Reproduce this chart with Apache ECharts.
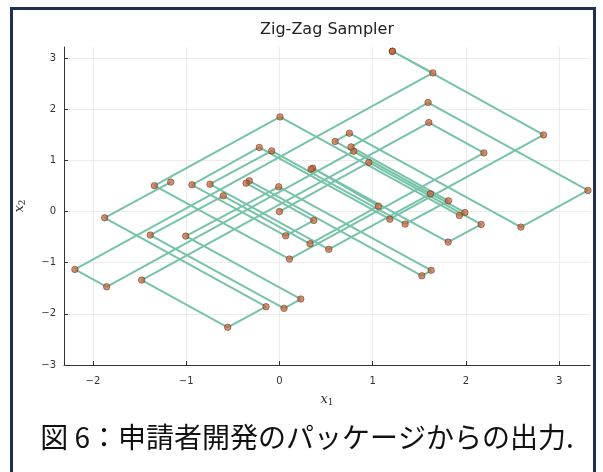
<!DOCTYPE html>
<html><head><meta charset="utf-8">
<script src="https://cdn.jsdelivr.net/npm/echarts@6/dist/echarts.min.js"></script>
<style>
html,body{margin:0;padding:0;background:#fff;overflow:hidden;width:603px;height:472px;}
#chart{position:absolute;left:0;top:0;width:603px;height:472px;}
#frame{position:absolute;left:10px;top:7px;width:580px;height:520px;border:3px solid #1f3152;pointer-events:none;}
</style></head>
<body>
<div id="chart"></div>
<div id="frame"></div>
<script>
// Zig-Zag trajectory, event points in order (x1, x2)
const pathX = [0.00, 0.958, 2.163, 1.809, 0.357, 0.339, 1.061, 0.328, -0.602, -1.385, 0.049, 0.229, -1.005, -0.008, 1.627, 1.527, -0.323, -0.358, 0.368, 0.067, -0.938, -0.216, 1.183, 2.832, 1.211, 1.211, 1.645, -2.193, -1.853, 0.797, 1.619, 0.529, -0.745, -0.083, 1.348, 1.812, 0.768, 1.594, 3.308, 2.589, 0.750, 0.597, 1.988, 1.930, 0.006, -1.341, 0.107, 2.192, 1.602, -1.477, -0.555, -0.144, -1.874, -1.166];
const pathY = [0.00, 0.961, -0.250, -0.596, 0.850, 0.831, 0.107, -0.629, 0.309, -0.459, -1.892, -1.710, -0.479, 0.485, -1.149, -1.255, 0.602, 0.557, -0.172, -0.473, 0.524, 1.255, -0.147, 1.501, 3.137, 3.137, 2.713, -1.130, -1.470, 1.182, 0.348, -0.738, 0.537, 1.188, -0.244, 0.211, 1.266, 2.134, 0.414, -0.303, 1.534, 1.372, -0.016, -0.074, 1.853, 0.508, -0.928, 1.149, 1.743, -1.339, -2.263, -1.860, -0.121, 0.577];
const xTicks = [-2, -1, 0, 1, 2, 3];
const yTicks = [-3, -2, -1, 0, 1, 2, 3];
const titleText = 'Zig-Zag Sampler';
const captionText = '図 6：申請者開発のパッケージからの出力.';

const fmt = v => (v < 0 ? '\u2212' + Math.abs(v) : String(v));
const chart = echarts.init(document.getElementById('chart'));
const axisCommon = {
  type: 'value',
  axisLine: {show: true, onZero: false, lineStyle: {color: '#333', width: 1}},
  splitLine: {show: true, lineStyle: {color: '#ececec', width: 1}},
  nameLocation: 'middle',
  nameTextStyle: {
    rich: {
      i: {fontFamily: 'DejaVu Serif', fontStyle: 'italic', fontSize: 13, color: '#333'},
      s: {fontFamily: 'DejaVu Serif', fontSize: 9, color: '#333', padding: [6, 0, 0, 0]}
    }
  }
};
chart.setOption({
  animation: false,
  grid: {left: 64, right: 13, top: 47, bottom: 107},
  xAxis: Object.assign({}, axisCommon, {
    min: -2.31, max: 3.33,
    name: '{i|x}{s|1}', nameGap: 27,
    axisTick: {show: true, inside: true, length: 4, customValues: xTicks, lineStyle: {color: '#333'}},
    axisLabel: {customValues: xTicks, formatter: fmt, fontSize: 10, color: '#333', margin: 11, fontFamily: 'DejaVu Sans'}
  }),
  yAxis: Object.assign({}, axisCommon, {
    min: -3, max: 3.22,
    name: '{i|x}{s|2}', nameGap: 37, nameRotate: 90,
    axisTick: {show: true, inside: true, length: 4, customValues: yTicks, lineStyle: {color: '#333'}},
    axisLabel: {customValues: yTicks, formatter: fmt, fontSize: 10, color: '#333', margin: 8, fontFamily: 'DejaVu Sans'}
  }),
  series: [{
    type: 'line',
    data: pathX.map((x, i) => [x, pathY[i]]),
    showAllSymbol: true,
    symbol: 'circle',
    symbolSize: 6.5,
    lineStyle: {color: '#77c3a9', width: 2},
    itemStyle: {color: 'rgba(200,95,50,0.7)', borderColor: 'rgba(70,35,20,0.6)', borderWidth: 0.8},
    clip: true
  }],
  graphic: [
    {type: 'text', x: 327, y: 30, style: {text: titleText, textAlign: 'center', textVerticalAlign: 'middle', font: '16px "DejaVu Sans"', fill: '#222'}},
    {type: 'text', x: 307, y: 437, style: {text: captionText, textAlign: 'center', textVerticalAlign: 'middle', font: '28px "Noto Sans CJK JP"', fill: '#111'}}
  ]
});
</script>
</body></html>
